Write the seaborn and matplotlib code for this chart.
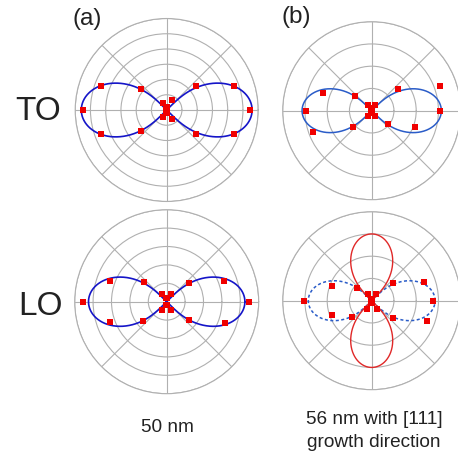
import numpy as np
import pandas as pd
import matplotlib
matplotlib.use("Agg")
import matplotlib.pyplot as plt
import seaborn as sns

# ---------------- data ----------------
angles_deg = [0, 20, 40, 60, 80, 100, 120, 140, 160, 180,
              200, 220, 240, 260, 280, 300, 320, 340]

a_TO = [5.45, 4.69, 2.49, 0.72, 0.20, 0.20, 0.50, 2.17, 4.59, 5.50,
        4.60, 2.19, 0.55, 0.20, 0.20, 0.70, 2.49, 4.69]
b_TO = [3.07, 3.26, 1.54, 0.30, 0.12, 0.12, 0.30, 1.00, 2.35, 2.95,
        2.83, 1.12, 0.30, 0.12, 0.12, 0.30, 0.95, 2.08]
a_LO = [4.46, 3.33, 1.57, 0.50, 0.20, 0.20, 0.50, 1.64, 3.27, 4.53,
        3.28, 1.65, 0.50, 0.20, 0.20, 0.50, 1.58, 3.36]
b_LO = [2.77, 2.50, 1.25, 0.35, 0.10, 0.10, 0.35, 0.89, 1.90, 3.03,
        1.90, 1.15, 0.45, 0.10, 0.10, 0.45, 1.24, 2.65]

# fitted curves: amplitude and orientation (deg)
fit_a_TO = (5.6, 0)
fit_b_TO = (3.13, 0)
fit_a_LO = (4.25, 0)
fit_b_LO_dashed = (2.85, 0)
fit_b_LO_solid = (3.0, 90)

rmax = {"aTO": 6, "bTO": 4, "aLO": 5, "bLO": 4}

row_labels = ["TO", "LO"]
col_labels = ["(a)", "(b)"]
caption_a = "50 nm"
caption_b = ["56 nm with [111]", "growth direction"]

# ---------------- style ----------------
sns.set_style("white")
plt.rcParams["font.family"] = ["Liberation Sans", "DejaVu Sans"]

W, H = 458, 454
fig = plt.figure(figsize=(W / 100, H / 100), dpi=100)

GRID = "#b0b0b0"
RED = "#f00000"
BLUE_A = "#1515c8"
BLUE_B = "#2a5cc8"
RED_LINE = "#e02828"
Q, M = 0.42, 1.25


def make_ax(cx, cy, r):
    ax = fig.add_axes([(cx - r) / W, 1 - (cy + r) / H, 2 * r / W, 2 * r / H],
                      projection="polar")
    return ax


def style(ax, n):
    ax.set_ylim(0, n)
    ax.set_yticks(np.arange(1, n + 1))
    ax.set_yticklabels([])
    ax.set_xticks(np.deg2rad(np.arange(0, 360, 45)))
    ax.set_xticklabels([])
    ax.grid(True, color=GRID, lw=0.8)
    ax.spines["polar"].set_color(GRID)
    ax.spines["polar"].set_linewidth(0.8)
    ax.set_xlabel("")
    ax.set_ylabel("")


def fit_df(A, phi):
    th = np.linspace(0, 2 * np.pi, 2881)
    t = th - np.deg2rad(phi)
    c2 = np.clip(np.cos(2 * t), 0, None)
    r = A * c2 ** Q * np.abs(np.cos(t)) ** M
    return pd.DataFrame({"theta": th, "r": r})


def pts_df(vals):
    return pd.DataFrame({"theta": np.deg2rad(angles_deg), "r": vals})


def draw(ax, vals, fits):
    for (A, phi), color, ls, lw in fits:
        sns.lineplot(data=fit_df(A, phi), x="theta", y="r", ax=ax, sort=False,
                     estimator=None, color=color, linestyle=ls, lw=lw,
                     legend=False, zorder=2)
    sns.scatterplot(data=pts_df(vals), x="theta", y="r", ax=ax, marker="s",
                    s=20, color=RED, linewidth=0, legend=False, zorder=3)


ax1 = make_ax(166.7, 110.0, 91.5)
draw(ax1, a_TO, [(fit_a_TO, BLUE_A, "-", 1.2)])
style(ax1, rmax["aTO"])

ax2 = make_ax(371.7, 110.7, 89.0)
draw(ax2, b_TO, [(fit_b_TO, BLUE_B, "-", 1.1)])
style(ax2, rmax["bTO"])

ax3 = make_ax(166.7, 301.7, 92.0)
draw(ax3, a_LO, [(fit_a_LO, BLUE_A, "-", 1.2)])
style(ax3, rmax["aLO"])

ax4 = make_ax(371.7, 300.7, 89.0)
draw(ax4, b_LO, [(fit_b_LO_dashed, BLUE_B, (0, (2, 1.6)), 1.1),
                 (fit_b_LO_solid, RED_LINE, "-", 1.0)])
style(ax4, rmax["bLO"])

TXT = "#222222"
fig.text(87 / W, 1 - 25 / H, col_labels[0], ha="center", va="baseline",
         fontsize=17.5, color=TXT)
fig.text(296.7 / W, 1 - 23.5 / H, col_labels[1], ha="center", va="baseline",
         fontsize=17.5, color=TXT)
fig.text(38.3 / W, 1 - 120 / H, row_labels[0], ha="center", va="baseline",
         fontsize=24, color=TXT)
fig.text(40.5 / W, 1 - 315 / H, row_labels[1], ha="center", va="baseline",
         fontsize=24, color=TXT)
fig.text(167.5 / W, 1 - 431.7 / H, caption_a, ha="center", va="baseline",
         fontsize=13.7, color=TXT)
fig.text(374 / W, 1 - 424 / H, caption_b[0], ha="center", va="baseline",
         fontsize=13.7, color=TXT)
fig.text(374 / W, 1 - 446.7 / H, caption_b[1], ha="center", va="baseline",
         fontsize=13.7, color=TXT)

fig.savefig("out.png", dpi=100, facecolor="white")
